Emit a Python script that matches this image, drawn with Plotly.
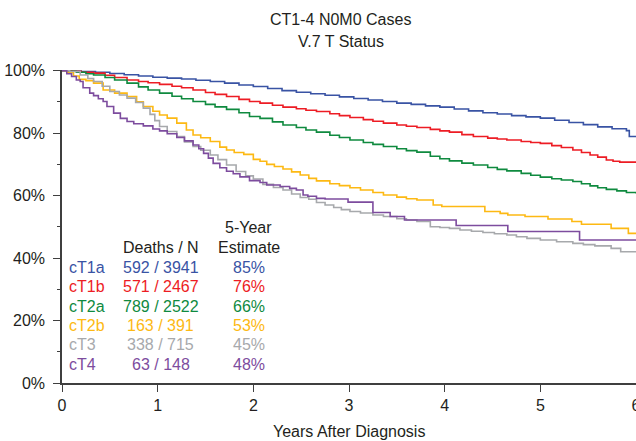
import plotly.graph_objects as go

# ---------------- data ----------------
series_names = ["cT1a", "cT1b", "cT2a", "cT2b", "cT3", "cT4"]
series_colors = ["#3953A4", "#ED1C24", "#0F8A3F", "#FDB913", "#A7A9AC", "#7D4C9E"]
deaths_n = ["592 / 3941", "571 / 2467", "789 / 2522", "163 / 391", "338 / 715", "63 / 148"]
five_year = ["85%", "76%", "66%", "53%", "45%", "48%"]

t_cT1a = [0, 0.1, 0.2, 0.35, 0.5, 0.65, 0.8, 0.95, 1.1, 1.25, 1.4, 1.55, 1.7, 1.85, 2.0, 2.15,
          2.3, 2.45, 2.6, 2.75, 2.9, 3.05, 3.2, 3.35, 3.5, 3.65, 3.8, 3.95, 4.1, 4.25, 4.4, 4.55,
          4.7, 4.85, 5.0, 5.15, 5.3, 5.45, 5.6, 5.75, 5.9, 5.93, 6.0]
s_cT1a = [100, 99.9, 99.7, 99.5, 99.1, 98.7, 98.3, 97.9, 97.6, 97.3, 96.9, 96.5, 96.0, 95.4, 94.9, 94.3,
          93.6, 93.1, 92.6, 92.1, 91.6, 91.1, 90.6, 90.1, 89.6, 89.2, 88.7, 88.3, 87.7, 87.1, 86.5, 86.1,
          85.6, 85.2, 84.8, 84.1, 83.4, 82.7, 82.0, 81.4, 80.8, 78.9, 78.9]

t_cT1b = [0, 0.1, 0.2, 0.33, 0.45, 0.55, 0.68, 0.8, 0.9, 1.02, 1.15, 1.25, 1.37, 1.5, 1.6, 1.72,
          1.85, 1.96, 2.07, 2.2, 2.31, 2.45, 2.55, 2.66, 2.8, 2.9, 3.01, 3.15, 3.25, 3.36, 3.5, 3.6,
          3.71, 3.85, 3.95, 4.05, 4.18, 4.3, 4.45, 4.55, 4.65, 4.8, 4.9, 5.0, 5.12, 5.22, 5.34, 5.43,
          5.52, 5.6, 5.69, 5.76, 5.83, 6.0]
s_cT1b = [100, 99.8, 99.5, 99.2, 98.5, 97.8, 97.0, 96.5, 96.1, 95.6, 95.0, 94.5, 93.8, 93.0, 92.4, 91.7,
          90.8, 90.1, 89.6, 88.9, 88.3, 87.8, 87.3, 86.9, 86.2, 85.6, 85.0, 84.3, 83.8, 83.2, 82.6, 82.2,
          81.8, 81.2, 80.7, 80.3, 79.5, 78.9, 78.4, 78.1, 77.8, 77.3, 77.0, 76.7, 76.0, 75.4, 74.6, 73.8,
          73.0, 72.3, 71.4, 71.0, 70.7, 70.5]

t_cT2a = [0, 0.08, 0.15, 0.25, 0.33, 0.45, 0.55, 0.68, 0.8, 0.9, 1.02, 1.15, 1.25, 1.37, 1.5, 1.6,
          1.72, 1.85, 1.96, 2.07, 2.2, 2.31, 2.45, 2.55, 2.66, 2.8, 2.9, 3.01, 3.15, 3.25, 3.36, 3.5,
          3.6, 3.71, 3.85, 3.95, 4.05, 4.18, 4.3, 4.45, 4.55, 4.65, 4.8, 4.9, 5.0, 5.12, 5.22, 5.34,
          5.43, 5.52, 5.6, 5.69, 5.8, 5.9, 6.0]
s_cT2a = [100, 99.8, 99.5, 99.0, 98.6, 97.8, 97.0, 96.0, 94.8, 93.8, 92.8, 91.8, 91.0, 90.1, 89.2, 88.4,
          87.6, 86.5, 85.3, 84.7, 83.6, 82.6, 81.8, 81.0, 80.3, 79.3, 78.6, 77.8, 77.0, 76.4, 75.7, 75.0,
          74.4, 73.9, 72.6, 71.8, 71.1, 70.4, 69.8, 69.0, 68.4, 67.9, 67.1, 66.5, 65.9, 65.4, 65.0, 64.5,
          63.8, 63.1, 62.5, 62.0, 61.5, 61.0, 60.7]

t_cT2b = [0, 0.05, 0.12, 0.18, 0.25, 0.33, 0.43, 0.55, 0.68, 0.78, 0.85, 0.95, 1.02, 1.1, 1.2, 1.3,
          1.37, 1.45, 1.55, 1.65, 1.72, 1.8, 1.9, 2.0, 2.07, 2.14, 2.22, 2.31, 2.4, 2.49, 2.58, 2.66,
          2.8, 2.9, 3.01, 3.12, 3.25, 3.36, 3.5, 3.6, 3.71, 3.88, 3.97, 4.42, 4.58, 4.66, 4.84, 5.08,
          5.33, 5.43, 5.74, 5.92, 6.0]
s_cT2b = [100, 99.4, 98.3, 97.2, 96.8, 96.0, 93.8, 92.8, 91.7, 90.0, 88.5, 87.0, 85.8, 84.8, 83.2, 81.0,
          79.4, 78.5, 77.3, 75.5, 74.6, 73.8, 73.2, 71.6, 71.0, 70.0, 69.3, 68.5, 67.6, 66.6, 65.5, 64.7,
          63.8, 63.2, 62.5, 61.8, 61.0, 60.2, 59.5, 59.0, 58.6, 57.0, 56.5, 54.9, 54.3, 53.8, 53.3, 52.5,
          51.7, 50.8, 49.5, 47.9, 47.9]

t_cT3 = [0, 0.08, 0.19, 0.27, 0.33, 0.42, 0.5, 0.6, 0.68, 0.77, 0.85, 0.92, 0.97, 1.02, 1.1, 1.2,
         1.28, 1.37, 1.45, 1.55, 1.63, 1.72, 1.82, 1.92, 2.0, 2.1, 2.21, 2.31, 2.4, 2.49, 2.58, 2.66,
         2.75, 2.84, 2.92, 3.01, 3.12, 3.25, 3.36, 3.5, 3.6, 3.71, 3.85, 3.95, 4.05, 4.16, 4.28, 4.4,
         4.52, 4.65, 4.75, 4.86, 5.0, 5.17, 5.34, 5.45, 5.57, 5.74, 5.84, 6.0]
s_cT3 = [100, 99.7, 98.6, 97.5, 96.5, 95.0, 93.3, 92.2, 91.2, 89.8, 88.0, 86.0, 84.0, 82.1, 80.5, 78.9,
         77.2, 75.7, 74.5, 73.0, 71.5, 69.8, 67.7, 66.3, 65.3, 63.6, 62.6, 61.8, 60.5, 59.4, 58.8, 57.8,
         57.0, 56.2, 55.5, 54.9, 54.4, 53.8, 53.3, 52.6, 52.2, 51.7, 50.0, 49.8, 49.5, 49.0, 48.6, 48.2,
         47.8, 47.4, 46.8, 46.3, 45.8, 45.2, 44.7, 44.3, 43.9, 43.1, 42.0, 41.8]

t_cT4 = [0, 0.05, 0.1, 0.15, 0.19, 0.22, 0.29, 0.33, 0.38, 0.43, 0.47, 0.54, 0.61, 0.68, 0.75, 0.85,
         0.95, 1.02, 1.1, 1.2, 1.28, 1.37, 1.43, 1.48, 1.53, 1.58, 1.65, 1.72, 1.79, 1.86, 1.96, 2.07,
         2.14, 2.28, 2.38, 2.45, 2.52, 2.57, 2.66, 2.75, 2.99, 3.25, 3.43, 3.58, 4.12, 4.66, 5.41, 6.0]
s_cT4 = [100, 99.0, 98.1, 97.0, 96.5, 94.5, 92.8, 92.0, 91.0, 90.1, 88.5, 86.4, 84.7, 83.7, 83.0, 82.3,
         81.3, 80.7, 79.8, 78.6, 77.5, 76.2, 75.0, 73.5, 72.0, 70.3, 68.9, 67.8, 67.0, 66.0, 64.8, 64.2,
         63.4, 62.9, 62.3, 61.8, 60.2, 59.8, 59.1, 58.9, 57.9, 54.6, 53.3, 52.2, 50.4, 48.5, 45.8, 45.8]

x_ticks = [0, 1, 2, 3, 4, 5, 6]
y_ticks = [0, 20, 40, 60, 80, 100]
y_tick_labels = ["0%", "20%", "40%", "60%", "80%", "100%"]
title_lines = ["CT1-4 N0M0 Cases", "V.7 T Status"]
x_title = "Years After Diagnosis"
header_deaths = "Deaths / N"
header_est = ["5-Year", "Estimate"]

times = [t_cT1a, t_cT1b, t_cT2a, t_cT2b, t_cT3, t_cT4]
surv = [s_cT1a, s_cT1b, s_cT2a, s_cT2b, s_cT3, s_cT4]

# ---------------- figure ----------------
W, H = 636, 441
L, R, T, B = 62, 0, 70, 58
PW, PH = W - L - R, H - T - B
TXT = "#231F20"
FONT = "Liberation Sans, Arial, sans-serif"


def px_x(x):
    return (x - L) / PW


def px_y(y):
    return (H - B - y) / PH


fig = go.Figure()
for name, col, tt, ss in zip(series_names, series_colors, times, surv):
    fig.add_trace(go.Scatter(x=tt, y=ss, mode="lines", name=name,
                             line=dict(color=col, width=1.6, shape="hv"),
                             showlegend=False, hoverinfo="skip"))


def txt(text, x, y, color=TXT, anchor="center"):
    return dict(text=text, x=px_x(x), y=px_y(y), xref="paper", yref="paper",
                xanchor=anchor, yanchor="middle", showarrow=False,
                font=dict(size=16, color=color, family=FONT))


ann = [txt(title_lines[0], 340.5, 19), txt(title_lines[1], 340.5, 42),
       txt(x_title, 349, 431),
       txt(header_est[0], 248.5, 227), txt(header_est[1], 248.5, 247),
       txt(header_deaths, 161, 247)]
row_y = [267.3, 286.6, 306, 325.4, 344.8, 364.2]
for name, col, dn, est, yy in zip(series_names, series_colors, deaths_n, five_year, row_y):
    ann.append(txt(name, 66.5, yy, col, "left"))
    ann.append(txt(dn, 160.5, yy, col))
    ann.append(txt(est, 249, yy, col))

AX = "#3F3F3F"
fig.update_layout(
    width=W, height=H,
    margin=dict(l=L, r=R, t=T, b=B, pad=0, autoexpand=False),
    paper_bgcolor="white", plot_bgcolor="white",
    font=dict(family=FONT, size=16, color=TXT),
    annotations=ann,
    xaxis=dict(range=[0, 6], tickvals=x_ticks, ticks="outside", ticklen=7, tickwidth=1.3,
               tickcolor=AX, showline=True, linecolor=AX, linewidth=1.5, showgrid=False,
               zeroline=False, ticklabeloverflow="allow", automargin=False,
               tickfont=dict(size=16, color=TXT, family=FONT)),
    yaxis=dict(range=[0, 100.2], tickvals=y_ticks, ticktext=y_tick_labels, ticks="outside",
               ticklen=7, tickwidth=1.3, tickcolor=AX, showline=True, linecolor=AX,
               linewidth=1.5, showgrid=False, zeroline=False, ticklabelstandoff=5,
               automargin=False,
               minor=dict(dtick=10, tick0=0, ticks="outside", ticklen=3.5, tickwidth=1.3,
                          tickcolor=AX, showgrid=False),
               tickfont=dict(size=16, color=TXT, family=FONT)),
)

fig.write_html("out.html", config={"displayModeBar": False},
               post_script="document.body.style.margin='0';document.body.style.overflow='hidden';")
